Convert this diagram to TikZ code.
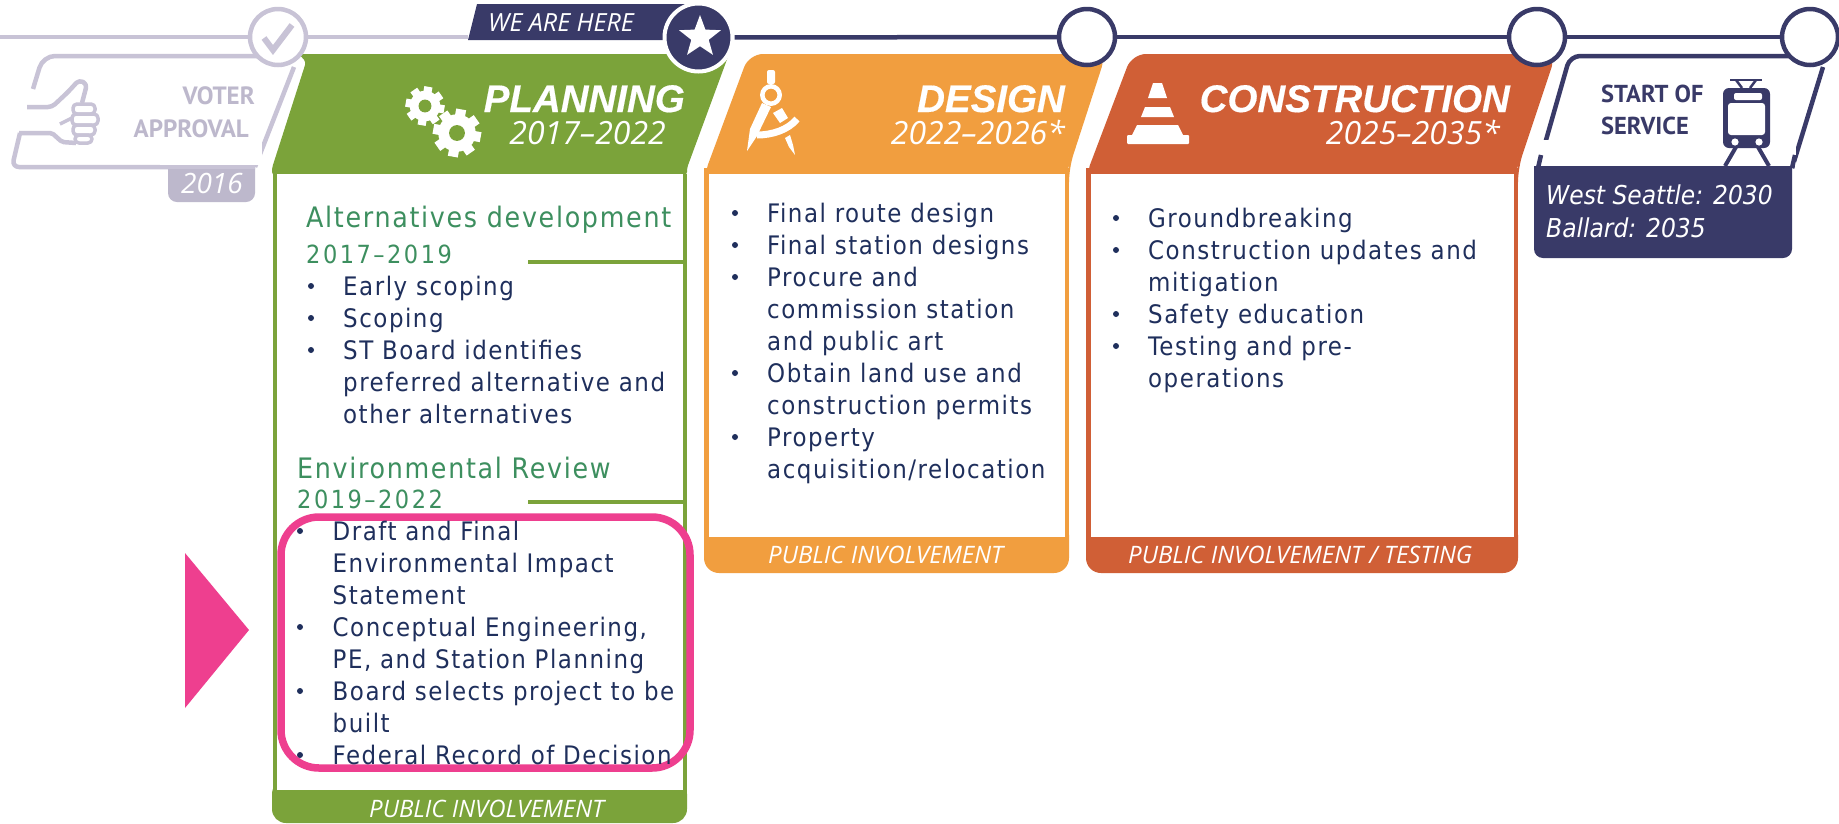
\documentclass[tikz,border=0pt]{standalone}
\usepackage{fontspec}
\setmainfont[LetterSpace=6]{DejaVu Sans Condensed}
\newfontfamily\plainfont{DejaVu Sans Condensed}
\newfontfamily\wideyear[LetterSpace=10]{DejaVu Sans Condensed}
\newfontfamily\openfont{Open Sans}
\newfontfamily\headfont[FakeBold=0.4]{Liberation Sans}
\newfontfamily\capfont{PT Sans}
\usetikzlibrary{shapes.geometric}
\definecolor{lav}{HTML}{C8C3D6}
\definecolor{lavdk}{HTML}{BDB8CC}
\definecolor{navy}{HTML}{393A68}
\definecolor{ink}{HTML}{1F2F5C}
\definecolor{leaf}{HTML}{7BA33A}
\definecolor{headgreen}{HTML}{3D8F5F}
\definecolor{amber}{HTML}{F19E3F}
\definecolor{rust}{HTML}{D05F36}
\definecolor{hotpink}{HTML}{EE3F8F}
\newcommand{\fs}[1]{\fontsize{#1}{#1}\selectfont}
\tikzset{
  txt/.style={inner sep=0pt,anchor=base west},
  rtxt/.style={inner sep=0pt,anchor=base east},
  bodytext/.style={txt,text=ink,font=\fs{25.5}},
  bulletdot/.style={circle,fill=ink,inner sep=0pt,minimum size=6pt},
  stagehead/.style={rtxt,text=white,font=\headfont\bfseries\itshape\fs{38.5}},
  stageyear/.style={rtxt,text=white,font=\openfont\itshape\fs{32}},
  foot/.style={txt,text=white,font=\openfont\itshape\fs{24}},
  subhead/.style={txt,text=headgreen,font=\fs{28.2}},
  subyear/.style={txt,text=headgreen,font=\wideyear\fs{25}},
  stop/.style={circle,draw=#1,line width=4.5pt,fill=white,inner sep=0pt,minimum size=56pt},
  railg/.style={draw=lav,line width=4.5pt},
  railn/.style={draw=navy,line width=4.5pt},
}
\newcommand{\gear}[3]{%
  \foreach \a in {0,45,...,315}{\draw[white,line width=#3*0.42pt] (#1,#2) -- ++(\a+10:#3);}
  \fill[white] (#1,#2) circle (#3*0.78);
  \fill[leaf] (#1,#2) circle (#3*0.33);}
\begin{document}
\begin{tikzpicture}[x=1pt,y=-1pt,line join=round]
\useasboundingbox (0,0) rectangle (1839,823);
\fill[white] (0,0) rectangle (1839,823);

% --- voter approval
\draw[draw=lav,line width=4.5pt,rounded corners=12pt]
  (33,89) -- (43,56) -- (298,56);
\draw[draw=lav,line width=4.5pt] (294,67) -- (255,167);
\draw[draw=lav,line width=4.5pt,rounded corners=7pt] (255,167) -- (12,167) -- (20,133);
\draw[draw=lav,line width=4.5pt,rounded corners=2pt] (19,133) -- (52,133) -- (62,142) -- (76,143);
\draw[draw=lav,line width=4.5pt,rounded corners=4pt] (27,107) -- (52,107) -- (68,92) -- (79,80) -- (87,84) -- (82,103);
\draw[draw=lav,line width=3.5pt] (60,124) -- (72,118);
\foreach \xa/\ya/\xb/\yb in {73/104/95/114,72/114/98/125,73/125/95/135,75/135/92/143}{
  \draw[draw=lav,line width=3.5pt,fill=white,rounded corners=4pt] (\xa,\ya) rectangle (\xb,\yb);}
\fill[lavdk,rounded corners=9pt] (168,150) -- (168,202) -- (255,202) -- (255,150) -- cycle;
\fill[white] (160,140) rectangle (262,165);
\draw[draw=lav,line width=4.5pt] (166,167) -- (255,167);
\node[rtxt,text=lavdk,font=\capfont\bfseries\fs{25}] (voter1) at (255,104) {VOTER};
\node[rtxt,text=lavdk,font=\capfont\bfseries\fs{25}] (voter2) at (249,137) {APPROVAL};
\node[rtxt,text=white,font=\openfont\itshape\fs{28}] (y2016) at (243,193) {2016};

% --- planning panel
\fill[leaf,rounded corners=3pt] (272,175) -- (272,168) -- (306,62) -- (299,54) -- (729,54) -- (687,168) -- (687,175) -- cycle;
\fill[leaf,rounded corners=14pt] (272,780) -- (272,823) -- (687,823) -- (687,780) -- cycle;
\draw[leaf,line width=4pt] (274.5,174) -- (274.5,792) (685,174) -- (685,792);
\fill[white] (277,174) rectangle (683,790);
\draw[leaf,line width=4pt] (528,262) -- (685,262);
\draw[leaf,line width=4pt] (528,502) -- (685,502);

% --- design panel
\fill[amber,rounded corners=14pt] (703,178) -- (749,54) -- (1106,54) -- (1069,168) -- (1069,178) -- cycle;
\fill[amber] (704,168) rectangle (1069,185);
\fill[amber,rounded corners=15pt] (704,520) -- (704,573) -- (1069,573) -- (1069,520) -- cycle;
\fill[amber] (704,170) rectangle (1069,540);
\fill[white] (708.5,174) rectangle (1064.5,537);

% --- construction panel
\fill[rust,rounded corners=14pt] (1085,178) -- (1132,54) -- (1556,54) -- (1518,168) -- (1518,178) -- cycle;
\fill[rust] (1086,168) rectangle (1518,185);
\fill[rust,rounded corners=15pt] (1086,520) -- (1086,573) -- (1518,573) -- (1518,520) -- cycle;
\fill[rust] (1086,170) rectangle (1518,540);
\fill[white] (1090.5,174) rectangle (1513.5,537);

% --- start of service
\draw[navy,line width=4.5pt,rounded corners=10pt] (1538,168) -- (1570,56) -- (1800,56);
\draw[navy,line width=4.5pt] (1823,67) -- (1792,168);
\fill[navy,rounded corners=9pt] (1534,150) -- (1534,258) -- (1792,258) -- (1792,150) -- cycle;
\fill[white] (1530,140) -- (1530,166) -- (1796,166) -- (1796,140) -- cycle;
\draw[navy,line width=4.5pt] (1541,155) -- (1538,168) (1795,155) -- (1792,168);

% --- train icon
\draw[navy,line width=2.5pt,rounded corners=2pt] (1730,80) -- (1762,80);
\draw[navy,line width=2.5pt] (1736,80) -- (1742,88) (1756,80) -- (1750,88);
\fill[navy,rounded corners=6pt] (1723,88) rectangle (1770,148);
\fill[white,rounded corners=2pt] (1734,93) rectangle (1762,100);
\fill[white,rounded corners=3pt] (1728,103) rectangle (1765,135);
\fill[white] (1735,142) circle (3.6);
\fill[white] (1759,142) circle (3.6);
\draw[navy,line width=4pt] (1736,147) -- (1725,166) (1758,147) -- (1769,166);
\fill[white] (1747,154) -- (1729,169) -- (1765,169) -- cycle;
\fill[navy] (1720,166) rectangle (1775,170);

% --- rail and stops
\coordinate (railstart) at (0,37);
\node[stop=lav] (stopdone) at (278,37) {};
\node[stop=navy] (stopd) at (1087,37) {};
\node[stop=navy] (stopc) at (1537,37) {};
\node[stop=navy] (stops) at (1810,37) {};
\fill[navy] (477,4) -- (690,4) -- (672,40) -- (468,40) -- cycle;
\coordinate (tagleft) at (468,37);
\draw[railg] (railstart) -- (stopdone);
\draw[railg] (stopdone) -- (tagleft);
\node[circle,fill=navy,draw=white,line width=4pt,inner sep=0pt,minimum size=68pt] (stopnow) at (698.5,37.5) {};
\node[star,star points=5,star point ratio=2.4,fill=white,inner sep=0pt,minimum size=44pt] (starmark) at (700,37) {};
\draw[railn] (stopnow) -- (stopd);
\draw[railn] (stopd) -- (stopc);
\draw[railn] (stopc) -- (stops);
\draw[lav,line width=6pt,line cap=butt,line join=miter] (264,38) -- (273,50) -- (292,25);
\node[txt,text=white,font=\openfont\itshape\fs{25}] (here) at (488,31) {WE ARE HERE};

% --- icons
\gear{425}{106}{19.5}
\gear{457}{133}{24}
% compass
\fill[white,rounded corners=2pt] (767,70) rectangle (775,84);
\draw[white,line width=4.5pt] (771,95) circle (8.7);
\fill[white] (762,103) -- (771,107) -- (757,136) -- (747,151) -- (750,129) -- cycle;
\draw[white,line width=7pt] (757,135) .. controls (772,135) and (788,130) .. (797,119);
\fill[white] (773,113) -- (782,108) -- (788,118) -- (780,123) -- cycle;
\fill[white] (785,138) -- (790,135) -- (793,145) -- (795,155) -- (789,147) -- cycle;
% cone
\fill[white] (1153,83) -- (1162,83) -- (1167,98) -- (1148,98) -- cycle;
\fill[white] (1145,107) -- (1170,107) -- (1174,117) -- (1141,117) -- cycle;
\fill[white] (1137,125) -- (1178,125) -- (1183,135) -- (1132,135) -- cycle;
\fill[white,rounded corners=1pt] (1127,135) rectangle (1189,144);

% --- headers
\node[stagehead] (planh) at (685,112) {PLANNING};
\node[stageyear] (plany) at (666,144) {2017–2022};
\node[stagehead] (desh) at (1065,112) {DESIGN};
\node[stageyear] (desy) at (1065,144) {2022–2026*};
\node[stagehead] (conh) at (1510,112) {CONSTRUCTION};
\node[stageyear] (cony) at (1500,144) {2025–2035*};
\node[txt,text=navy,font=\capfont\bfseries\fs{24.5}] (start1) at (1601,102) {START OF};
\node[txt,text=navy,font=\capfont\bfseries\fs{24.5}] (start2) at (1601,134) {SERVICE};
\node[txt,text=white,font=\plainfont\itshape\fs{26}] (west) at (1546,204) {West Seattle: 2030};
\node[txt,text=white,font=\plainfont\itshape\fs{26}] (ball) at (1546,237) {Ballard: 2035};

% --- pink highlight
\draw[hotpink,line width=7.5pt,rounded corners=38pt] (281,517) rectangle (690,768);
\fill[hotpink] (185,553) -- (249,630) -- (185,708) -- cycle;

% --- planning text
\node[subhead] (alt) at (306,227) {Alternatives development};
\node[subyear] (alty) at (306,263) {2017–2019};
\foreach \t [count=\i from 0] in {Early scoping,Scoping,ST Board identifies,preferred alternative and,other alternatives}{
  \node[bodytext] (pa\i) at (343,295+32*\i) {\t};}
\foreach \i in {0,1,2}{\node[bulletdot] (pab\i) at (311,286+32*\i) {};}
\node[subhead] (env) at (297,478) {Environmental Review};
\node[subyear] (envy) at (297,508) {2019–2022};
\foreach \t [count=\i from 0] in {Draft and Final,Environmental Impact,Statement,{Conceptual Engineering,},{PE, and Station Planning},Board selects project to be,built,Federal Record of Decision}{
  \node[bodytext] (pb\i) at (332.5,540+32*\i) {\t};}
\foreach \i in {0,3,5,7}{\node[bulletdot] (pbb\i) at (300,531+32*\i) {};}
\node[foot] (pf) at (369,817) {PUBLIC INVOLVEMENT};

% --- design text
\foreach \t [count=\i from 0] in {Final route design,Final station designs,Procure and,commission station,and public art,Obtain land use and,construction permits,Property,acquisition/relocation}{
  \node[bodytext] (da\i) at (767,222+32*\i) {\t};}
\foreach \i in {0,1,2,5,7}{\node[bulletdot] (dab\i) at (735,213+32*\i) {};}
\node[foot] (df) at (768,563) {PUBLIC INVOLVEMENT};

% --- construction text
\foreach \t [count=\i from 0] in {Groundbreaking,Construction updates and,mitigation,Safety education,Testing and pre-,operations}{
  \node[bodytext] (ca\i) at (1148,227+32*\i) {\t};}
\foreach \i in {0,1,3,4}{\node[bulletdot] (cab\i) at (1116,218+32*\i) {};}
\node[foot] (cf) at (1128,563) {PUBLIC INVOLVEMENT / TESTING};
\end{tikzpicture}
\end{document}
